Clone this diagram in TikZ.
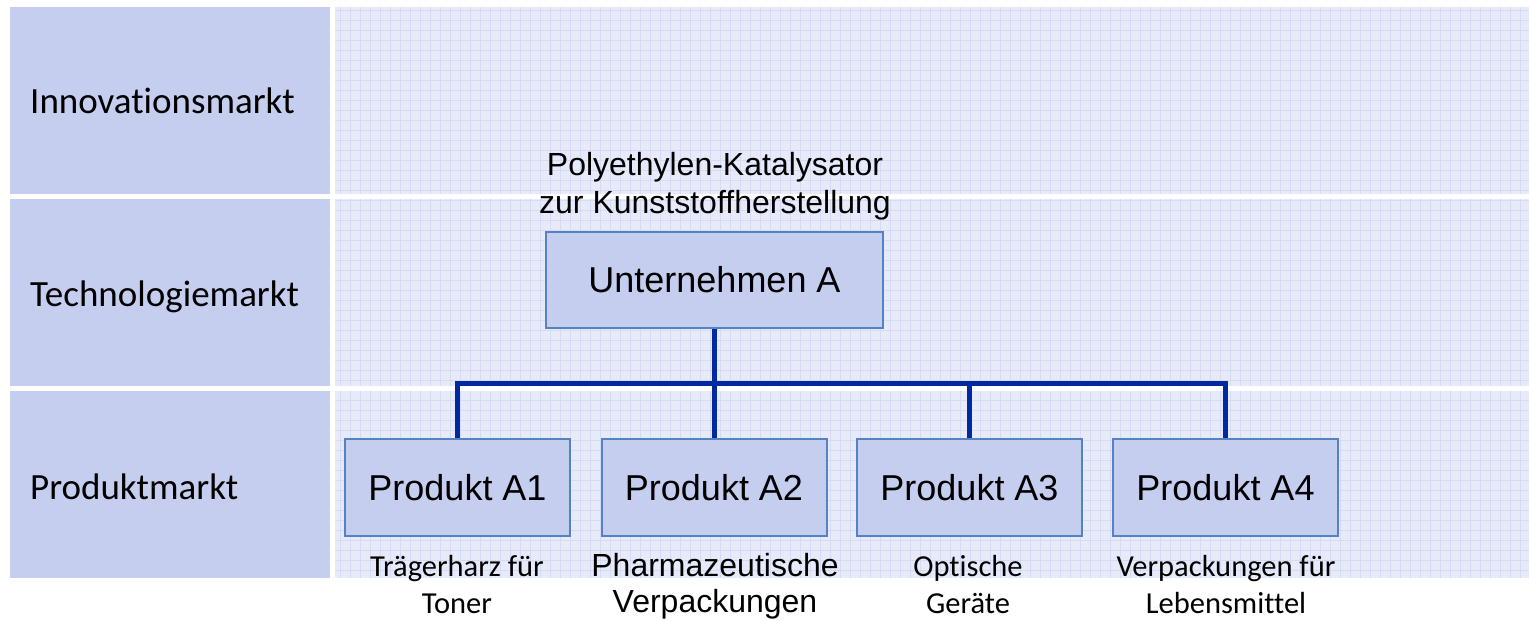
\documentclass[tikz,border=0pt]{standalone}
\usepackage{fontspec}
\setmainfont{Liberation Sans}
\newfontfamily\calfont[Ligatures={NoCommon,NoRare,NoDiscretionary}]{Carlito}
\definecolor{bandc}{RGB}{198,206,240}
\definecolor{gridbg}{RGB}{231,234,249}
\definecolor{gridln}{RGB}{213,219,244}
\definecolor{boxfill}{RGB}{198,206,240}
\definecolor{boxline}{RGB}{84,130,195}
\definecolor{connc}{RGB}{0,40,160}
\begin{document}
\begin{tikzpicture}[x=1pt,y=-1pt,
  band/.style={fill=bandc, draw=none},
  gridarea/.style={fill=gridbg, draw=none},
  gridlines/.style={draw=gridln, line width=0.8pt},
  rowlabel/.style={anchor=base west, inner sep=0pt, font=\calfont\fontsize{37}{44}\selectfont},
  boxnode/.style={draw=boxline, line width=2pt, fill=boxfill, minimum width=225pt, minimum height=97pt, inner sep=0pt, font=\fontsize{36}{42}\selectfont},
  note/.style={align=center, inner sep=0pt, font=\fontsize{32}{38}\selectfont},
  anote/.style={align=center, inner sep=0pt, font=\fontsize{32}{36}\selectfont},
  cnote/.style={align=center, inner sep=0pt, font=\calfont\fontsize{30.5}{37}\selectfont},
  conn/.style={draw=connc, line width=5pt}]
\useasboundingbox (0,0) rectangle (1529,621);
\fill[white] (0,0) rectangle (1529,621);
% rows
\foreach \t/\b in {7/194,199/386,391/578}{
  \fill[band] (10,\t) rectangle (330,\b);
  \fill[gridarea] (335,\t) rectangle (1529,\b);
  \begin{scope}
    \clip (335,\t) rectangle (1529,\b);
    \foreach \gx in {340,350,...,1530}{\draw[gridlines] (\gx,\t) -- (\gx,\b);}
    \foreach \gy in {0,10,...,580}{\draw[gridlines] (335,\gy) -- (1529,\gy);}
  \end{scope}
}
% row labels
\node[rowlabel] (lInno) at (30,113) {Innovationsmarkt};
\node[rowlabel] (lTech) at (30,306) {Technologiemarkt};
\node[rowlabel] (lProd) at (30,499) {Produktmarkt};
% company
\node[note] (poly) at (715,186) {Polyethylen-Katalysator\\zur Kunststoffherstellung};
\node[boxnode, minimum width=337pt, minimum height=96pt] (U) at (714.5,280) {Unternehmen A};
% products
\node[boxnode] (A1) at (457.5,487.5) {Produkt A1};
\node[boxnode] (A2) at (714,487.5) {Produkt A2};
\node[boxnode] (A3) at (969.5,487.5) {Produkt A3};
\node[boxnode] (A4) at (1225.5,487.5) {Produkt A4};
% connectors
\coordinate (j) at (714,383);
\draw[conn] (U.south) -- (U.south |- j);
\draw[conn] (A1.north) -- (A1.north |- j) -- (A4.north |- j) -- (A4.north);
\draw[conn] (A2.north) -- (A2.north |- j);
\draw[conn] (A3.north) -- (A3.north |- j);
% product notes
\node[cnote] (n1) at (457,585) {Trägerharz für\\Toner};
\node[anote] (n2) at (715,586.5) {Pharmazeutische\\Verpackungen};
\node[cnote] (n3) at (968,585) {Optische\\Geräte};
\node[cnote] (n4) at (1226,585) {Verpackungen für\\Lebensmittel};
\end{tikzpicture}
\end{document}
